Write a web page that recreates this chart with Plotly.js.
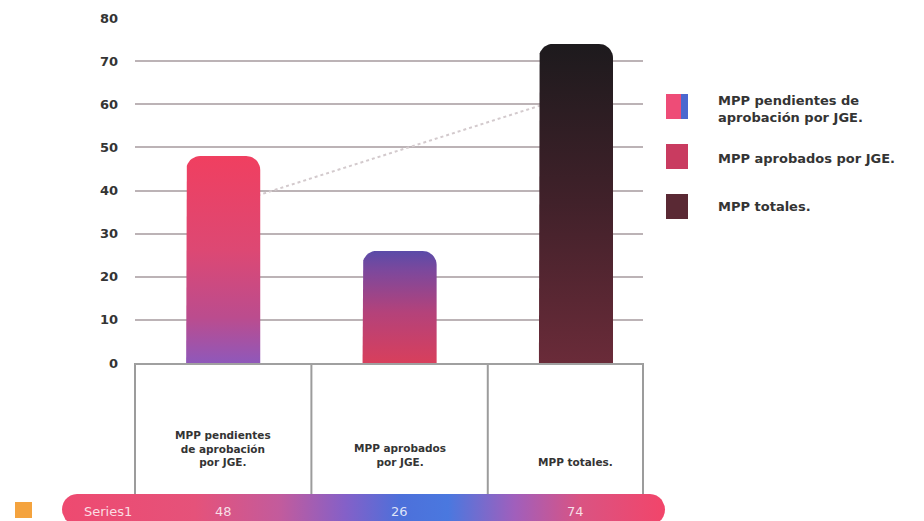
<!DOCTYPE html>
<html>
<head>
<meta charset="utf-8">
<script src="https://cdn.plot.ly/plotly-3.0.1.min.js"></script>
<style>
  html, body { margin: 0; padding: 0; background: #ffffff; }
  #chart { width: 924px; height: 521px; }
</style>
</head>
<body>
<div id="chart"></div>
<script>
// ---- data ----
const categories = ['MPP pendientes de aprobación por JGE.', 'MPP aprobados por JGE.', 'MPP totales.'];
const tableLabels = ['MPP pendientes<br>de aprobación<br>por JGE.', 'MPP aprobados<br>por JGE.', 'MPP totales.'];
const values = [48, 26, 74];
const seriesName = 'Series1';
const yTicks = [0, 10, 20, 30, 40, 50, 60, 70, 80];

// ---- canvas geometry ----
const W = 924, H = 521;
const PLOT = { left: 135, right: 643, top: 18, bottom: 363 };
const X_RANGE = [-0.5, 2.38];
const Y_RANGE = [0, 80];
const px = x => x / W;
const py = y => 1 - y / H;
const pxPerX = (PLOT.right - PLOT.left) / (X_RANGE[1] - X_RANGE[0]);
const pxPerY = (PLOT.bottom - PLOT.top) / (Y_RANGE[1] - Y_RANGE[0]);

const FONT = 'DejaVu Sans';
const TEXT = '#343434';

// gradient of each column, bottom -> top
const barScales = [
  [[0, '#8f58ba'], [0.22, '#bb4c8e'], [0.55, '#dd4873'], [1, '#f03f60']],
  [[0, '#d83f5c'], [0.45, '#b4427a'], [0.82, '#7d489c'], [1, '#5a4ba8']],
  [[0, '#6a2b39'], [0.5, '#41212a'], [1, '#1d1a1d']]
];

// outline of a column with rounded top corners, in axis units
function columnOutline(i, v, halfWidth, radiusPx) {
  const rx = radiusPx / pxPerX, ry = Math.min(radiusPx / pxPerY, v / 2);
  const xs = [i - halfWidth], ys = [0];
  const steps = 10;
  for (let k = 0; k <= steps; k++) {
    const t = Math.PI - (Math.PI / 2) * (k / steps);
    xs.push(i - halfWidth + rx + rx * Math.cos(t));
    ys.push(v - ry + ry * Math.sin(t));
  }
  for (let k = 0; k <= steps; k++) {
    const t = Math.PI / 2 - (Math.PI / 2) * (k / steps);
    xs.push(i + halfWidth - rx + rx * Math.cos(t));
    ys.push(v - ry + ry * Math.sin(t));
  }
  xs.push(i + halfWidth); ys.push(0);
  xs.push(i - halfWidth); ys.push(0);
  return { xs, ys };
}

// rounded strip (pixel units on the overlay axes)
function roundedStrip(x0, x1, y0, y1, r) {
  const xs = [], ys = [];
  const steps = 14;
  // left end
  for (let k = 0; k <= steps; k++) {
    const t = Math.PI / 2 + Math.PI * (k / steps);
    xs.push(x0 + r + r * Math.cos(t));
    ys.push((y0 + y1) / 2 - ((y1 - y0) / 2) * Math.sin(t));
  }
  // right end
  for (let k = 0; k <= steps; k++) {
    const t = -Math.PI / 2 + Math.PI * (k / steps);
    xs.push(x1 - r + r * Math.cos(t));
    ys.push((y0 + y1) / 2 - ((y1 - y0) / 2) * Math.sin(t));
  }
  xs.push(xs[0]); ys.push(ys[0]);
  return { xs, ys };
}

const traces = [];

// linear trend of the series (least squares)
(function () {
  const n = values.length;
  const xm = (n - 1) / 2;
  const ym = values.reduce((a, b) => a + b, 0) / n;
  let sxy = 0, sxx = 0;
  values.forEach((v, i) => { sxy += (i - xm) * (v - ym); sxx += (i - xm) * (i - xm); });
  const slope = sxy / sxx, icpt = ym - slope * xm;
  traces.push({
    type: 'scatter', mode: 'lines', xaxis: 'x', yaxis: 'y',
    x: [0, n - 1], y: [icpt, icpt + slope * (n - 1)],
    line: { color: '#d3cacd', width: 2, dash: 'dot' },
    hoverinfo: 'skip', showlegend: false
  });
})();

// columns
values.forEach((v, i) => {
  const o = columnOutline(i, v, 0.21, 14);
  traces.push({
    type: 'scatter', mode: 'lines', xaxis: 'x', yaxis: 'y',
    x: o.xs, y: o.ys,
    fill: 'toself',
    fillcolor: barScales[i][1][1],
    fillgradient: { type: 'vertical', start: 0, stop: v, colorscale: barScales[i] },
    line: { width: 0, color: 'rgba(0,0,0,0)' },
    name: categories[i], hoverinfo: 'skip', showlegend: false
  });
});

// data-table value strip
const strip = roundedStrip(62, 665, 494, 525, 15);
traces.push({
  type: 'scatter', mode: 'lines', xaxis: 'x2', yaxis: 'y2',
  x: strip.xs, y: strip.ys,
  fill: 'toself', fillcolor: '#d0508a',
  fillgradient: {
    type: 'horizontal', start: 62, stop: 665,
    colorscale: [
      [0, '#ee4a70'], [0.22, '#e5527a'], [0.36, '#c35b9c'], [0.47, '#8460c8'],
      [0.56, '#4d70da'], [0.64, '#4a78df'], [0.75, '#a05fbc'], [0.86, '#da5382'], [1, '#f2456a']
    ]
  },
  line: { width: 0, color: 'rgba(0,0,0,0)' },
  hoverinfo: 'skip', showlegend: false
});

const shapes = [];
const annotations = [];

// table cell borders
const lineStyle = { color: '#9c9c9c', width: 2 };
[['x domain', 0], ['x', 0.5], ['x', 1.5], ['x domain', 1]].forEach(([ref, xv]) => {
  shapes.push({
    type: 'line', layer: 'below', xref: ref, yref: 'paper',
    x0: xv, x1: xv, y0: py(363), y1: py(497), line: lineStyle
  });
});

// table category labels
tableLabels.forEach((t, i) => {
  annotations.push({
    xref: 'x', yref: 'paper', x: i, y: py(470), yanchor: 'bottom', xanchor: 'center',
    text: t, showarrow: false, align: 'center',
    font: { family: FONT, size: 10.5, color: TEXT, weight: 700 }
  });
});

// table values
values.forEach((v, i) => {
  annotations.push({
    xref: 'x', yref: 'paper', x: i, y: py(511), yanchor: 'middle', xanchor: 'center',
    text: String(v), showarrow: false,
    font: { family: FONT, size: 13, color: 'rgba(255,255,255,0.82)' }
  });
});
annotations.push({
  xref: 'paper', yref: 'paper', x: px(108), y: py(511), xanchor: 'center', yanchor: 'middle',
  text: seriesName, showarrow: false,
  font: { family: FONT, size: 13, color: 'rgba(255,255,255,0.82)' }
});
// series key
shapes.push({
  type: 'rect', xref: 'paper', yref: 'paper',
  x0: px(15), x1: px(32), y0: py(518), y1: py(502),
  fillcolor: '#f4a33e', line: { width: 0 }
});

// legend
const legendRows = [
  { y0: 94, y1: 119, text: 'MPP pendientes de<br>aprobación por JGE.', ty: 109 },
  { y0: 144, y1: 169, text: 'MPP aprobados por JGE.', ty: 158 },
  { y0: 194, y1: 219, text: 'MPP totales.', ty: 207 }
];
const legendFills = [['#ee4c77', '#4b68cf'], ['#c93b60'], ['#5a2934']];
legendRows.forEach((r, i) => {
  const f = legendFills[i];
  if (f.length === 2) {
    shapes.push({ type: 'rect', xref: 'paper', yref: 'paper', x0: px(666), x1: px(681), y0: py(r.y1), y1: py(r.y0), fillcolor: f[0], line: { width: 0 } });
    shapes.push({ type: 'rect', xref: 'paper', yref: 'paper', x0: px(681), x1: px(688), y0: py(r.y1), y1: py(r.y0), fillcolor: f[1], line: { width: 0 } });
  } else {
    shapes.push({ type: 'rect', xref: 'paper', yref: 'paper', x0: px(666), x1: px(688), y0: py(r.y1), y1: py(r.y0), fillcolor: f[0], line: { width: 0 } });
  }
  annotations.push({
    xref: 'paper', yref: 'paper', x: px(716), y: py(r.ty), xanchor: 'left', yanchor: 'middle',
    text: r.text, showarrow: false, align: 'left',
    font: { family: FONT, size: 13, color: TEXT, weight: 700 }
  });
});

const layout = {
  width: W, height: H,
  margin: { l: 0, r: 0, t: 0, b: 0 },
  paper_bgcolor: '#ffffff', plot_bgcolor: 'rgba(0,0,0,0)',
  showlegend: false, hovermode: false,
  xaxis: {
    domain: [px(PLOT.left), px(PLOT.right)], range: X_RANGE,
    showgrid: false, zeroline: false, showticklabels: false,
    showline: true, linecolor: '#a0a0a0', linewidth: 2, fixedrange: true
  },
  yaxis: {
    domain: [py(PLOT.bottom), py(PLOT.top)], range: Y_RANGE,
    tickvals: yTicks, ticktext: yTicks.map(String),
    showgrid: true, gridcolor: '#bcb3b6', gridwidth: 2,
    zeroline: false, showline: false,
    ticks: '', ticklabelstandoff: 16,
    tickfont: { family: FONT, size: 13, color: TEXT, weight: 700 },
    fixedrange: true
  },
  xaxis2: { domain: [0, 1], range: [0, W], anchor: 'y2', visible: false, fixedrange: true },
  yaxis2: { domain: [0, 1], range: [H, 0], anchor: 'x2', visible: false, fixedrange: true },
  shapes, annotations
};

Plotly.newPlot('chart', traces, layout, { displayModeBar: false, staticPlot: true });
</script>
</body>
</html>
